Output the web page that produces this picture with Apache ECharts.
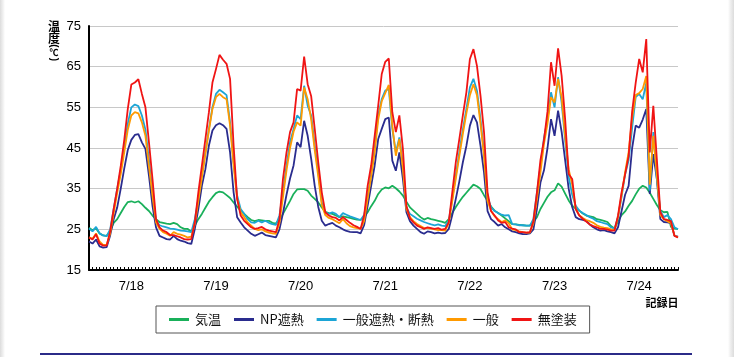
<!DOCTYPE html>
<html>
<head>
<meta charset="utf-8">
<script src="https://cdn.jsdelivr.net/npm/echarts@6/dist/echarts.min.js"></script>
<style>
html,body{margin:0;padding:0;background:#fff;}
#wrap{position:relative;width:734px;height:357px;overflow:hidden;}
#chart{position:absolute;left:0;top:0;width:734px;height:357px;}
.edgeL{position:absolute;left:0;top:0;width:5px;height:357px;background:linear-gradient(to right,#dcdcdc,#f4f4f4 70%,#fff);}
.edgeR{position:absolute;left:728px;top:0;width:6px;height:357px;background:linear-gradient(to right,#fff,#efefef 40%,#dcdcdc);}
</style>
</head>
<body>
<div id="wrap"><div class="edgeL"></div><div class="edgeR"></div><div id="chart"></div></div>
<script>
// ---- data ----
const dayLabels = ['7/18','7/19','7/20','7/21','7/22','7/23','7/24'];
const hoursPerDay = 24;
const yMin = 15, yMax = 75, yStep = 10;
const seriesNames = ['気温','NP遮熱','一般遮熱・断熱','一般','無塗装'];

const kion = [
25.4,24.8,25.2,24.0,23.5,23.4,24.5,26.6,27.5,29.0,30.5,31.7,31.9,31.6,31.9,31.2,30.3,29.5,28.4,27.5,26.8,26.6,26.4,26.3,
26.6,26.3,25.5,25.1,25.1,24.4,25.9,27.5,28.8,30.3,31.8,32.9,33.9,34.3,34.1,33.4,32.7,31.6,30.6,29.6,28.8,28.0,27.3,27.0,
27.3,27.2,27.1,27.1,26.6,26.4,27.5,28.8,30.4,32.0,33.7,34.8,34.9,34.9,34.5,33.3,32.5,31.6,30.4,29.3,29.0,28.8,28.4,28.0,
28.2,28.0,27.8,27.6,27.4,27.3,28.0,29.2,30.7,32.0,33.7,34.8,35.3,35.1,35.7,35.1,34.3,33.3,31.8,30.4,29.6,28.8,28.0,27.4,
27.8,27.5,27.3,27.1,26.9,26.6,27.5,29.0,30.5,31.8,33.0,34.0,35.0,36.0,35.6,34.9,33.4,32.0,30.6,29.6,29.0,28.4,27.7,27.0,
26.3,26.2,26.1,26.0,25.9,25.9,26.8,28.0,30.0,31.5,33.0,34.1,34.6,36.3,35.5,33.8,32.1,30.8,30.1,29.6,28.9,28.4,28.2,28.0,
27.5,27.3,27.1,26.8,25.8,25.2,27.0,28.5,29.4,30.8,32.0,33.6,35.0,35.7,35.3,34.0,32.5,31.0,29.7,29.2,29.3,25.6,25.2,25.1
];
const npShanetsu = [
22.0,21.5,22.5,20.8,20.5,20.6,23.5,27.5,30.4,35.0,40.0,44.5,47.0,48.2,48.4,46.4,44.8,38.2,30.8,25.5,23.4,23.0,22.6,22.5,
23.4,22.6,22.2,22.0,21.6,21.4,25.1,30.0,35.7,39.8,45.6,49.3,50.6,51.1,50.6,49.7,43.9,34.1,28.0,26.7,25.5,24.7,23.9,23.4,
23.8,24.2,23.6,23.4,23.2,23.0,25.0,29.0,33.5,37.5,40.7,46.4,45.2,51.7,48.0,42.3,35.7,30.5,27.1,25.9,26.3,26.6,25.9,25.5,
25.0,24.6,24.4,24.3,24.3,24.0,26.0,30.8,35.7,40.7,47.2,49.7,52.1,52.5,41.9,39.4,43.9,37.4,29.2,27.0,25.9,25.1,24.3,23.9,
24.5,24.3,24.0,24.2,24.0,24.1,25.1,28.5,32.5,36.8,41.5,45.5,50.5,53.1,51.3,45.6,39.0,29.5,27.5,26.8,25.9,26.3,25.5,25.0,
24.5,24.3,24.0,23.8,23.8,24.0,25.0,30.0,36.5,39.5,45.0,52.1,48.0,54.2,49.0,42.0,35.0,30.5,28.0,27.5,27.3,27.1,26.2,25.5,
25.0,24.7,24.8,24.5,24.3,24.0,25.5,29.5,33.5,35.7,45.0,50.5,50.0,52.0,54.6,33.7,43.5,37.4,27.5,26.8,26.7,26.5,23.4,23.2
];
const ippanShanetsuDannetsu = [
25.2,24.5,25.6,24.0,23.5,23.3,25.0,30.0,35.0,39.5,45.0,51.0,55.0,55.7,55.3,53.0,49.5,42.0,34.0,27.2,26.0,25.7,25.5,25.2,
25.1,24.9,24.7,24.6,24.5,24.3,27.5,32.5,38.2,43.9,49.7,55.0,58.3,59.3,58.7,58.0,51.3,41.5,33.3,30.0,28.8,27.5,26.7,26.6,
27.1,26.7,27.1,26.6,26.3,26.1,28.4,34.1,40.7,46.4,49.7,53.0,52.1,60.3,55.4,53.0,45.6,39.0,31.6,29.2,28.8,29.2,28.8,28.0,
29.0,28.6,28.2,27.9,27.6,27.3,28.5,33.0,38.5,45.0,53.0,57.0,59.1,59.5,49.7,43.9,47.6,40.7,30.4,28.8,28.2,27.6,27.2,26.8,
26.5,26.2,26.0,26.2,25.9,25.8,27.1,32.5,38.2,44.0,49.5,54.6,59.9,62.0,59.1,52.1,43.9,33.0,30.4,29.5,29.0,28.6,28.4,28.5,
26.3,26.2,26.0,26.0,25.9,25.9,27.5,34.0,40.5,47.5,52.0,58.7,55.0,62.4,56.2,47.0,38.0,33.5,30.8,29.6,29.0,28.5,28.0,27.6,
27.0,26.8,26.5,26.3,25.5,25.2,28.0,33.0,38.5,42.0,50.0,57.5,58.3,57.0,61.0,34.5,48.9,37.5,29.5,28.0,28.5,27.5,25.5,25.0
];
const ippan = [
23.0,22.7,24.0,22.0,21.2,21.2,24.0,29.0,34.0,38.6,44.0,49.5,53.0,53.8,53.5,51.3,48.0,40.5,33.3,26.7,25.1,24.3,23.9,23.4,
24.3,23.9,23.7,23.4,23.0,23.2,26.3,32.0,37.8,43.5,49.3,54.6,57.5,58.3,57.5,57.0,50.5,40.7,32.5,29.2,28.0,26.7,25.9,25.1,
24.8,25.0,24.5,24.2,24.0,23.9,26.5,33.0,39.5,45.0,49.0,51.3,50.5,59.9,57.0,52.0,44.5,38.0,31.0,28.5,27.8,27.5,27.0,26.5,
27.5,26.5,25.8,25.5,25.3,25.2,27.0,32.5,38.0,44.0,52.0,56.5,58.5,60.5,50.5,43.1,47.2,40.0,30.0,28.0,27.0,26.3,25.8,25.3,
25.3,25.2,25.0,24.8,24.8,24.7,26.5,32.0,37.5,43.0,48.5,53.5,58.0,60.7,58.0,51.0,43.0,32.0,29.5,28.2,27.5,26.8,27.2,26.5,
25.0,24.8,24.5,24.3,24.2,24.2,26.5,32.5,39.0,46.0,51.0,57.5,56.2,62.0,57.5,48.0,39.8,36.0,30.0,28.5,27.8,27.3,27.0,26.6,
26.0,25.6,25.4,25.3,25.0,24.8,28.0,33.5,39.0,44.0,52.5,58.0,58.5,59.5,62.7,36.0,48.0,38.5,28.5,27.5,27.0,26.5,23.5,23.0
];
const mutoso = [
23.0,22.5,23.8,21.5,21.0,21.0,24.5,30.0,35.0,40.6,47.0,54.6,60.6,61.1,61.9,58.3,55.0,46.4,37.4,27.5,25.5,24.7,24.3,23.6,
23.6,23.3,23.0,22.6,22.5,22.6,26.7,34.1,40.6,47.2,53.8,61.1,64.4,67.9,66.7,65.7,62.0,45.6,32.5,28.4,27.1,26.3,25.5,25.1,
25.3,25.6,25.0,24.7,24.5,24.3,27.5,37.4,43.9,48.9,51.3,59.5,59.1,67.5,60.7,57.7,49.7,41.5,34.1,29.2,28.4,28.0,27.8,27.2,
28.0,27.3,26.6,26.0,25.6,25.1,28.4,35.7,40.7,48.0,55.4,63.2,66.2,67.0,53.8,48.9,53.0,44.8,30.8,27.7,26.7,25.9,25.5,25.1,
25.5,25.3,25.1,25.3,24.9,25.1,26.7,34.1,41.5,47.2,53.0,58.7,66.9,69.3,65.2,57.9,48.9,34.1,29.5,28.4,27.2,26.6,26.8,25.5,
25.2,25.0,24.3,24.3,24.2,24.3,27.0,34.0,42.0,47.0,54.0,66.1,60.3,69.5,62.8,52.1,38.6,37.4,30.0,28.4,27.6,26.9,26.2,25.8,
25.5,25.1,25.1,24.9,24.7,24.7,28.4,34.1,38.5,43.0,54.0,61.0,66.9,63.6,71.8,43.9,55.4,42.3,29.2,27.5,27.3,27.0,23.4,23.0
];
const seriesData = [kion, npShanetsu, ippanShanetsuDannetsu, ippan, mutoso];
const seriesColors = ['#19b05a','#2a2c8e','#1ca5d6','#ff9a00','#f01414'];

// ---- build ----
const categories = [];
dayLabels.forEach(d => { for (let h = 0; h < hoursPerDay; h++) categories.push(d + ' ' + h + ':00'); });

const FONT = "'Liberation Sans', Arial, 'Noto Sans CJK JP', sans-serif";
const JFONT = "'Noto Sans CJK JP', 'Liberation Sans', sans-serif";

function txt(str, y, size, fam) {
  return {type: 'text', x: 0, y: y,
    style: {text: str, font: 'bold ' + size + 'px ' + (fam || JFONT), fill: '#000', align: 'center', verticalAlign: 'middle'}};
}
function rotated(str, y, size) {
  return {type: 'group', x: 0, y: y, rotation: -Math.PI / 2, children: [txt(str, 0, size, FONT)]};
}
function titleParts() {
  return [
    txt('温', 0, 12),
    txt('度', 11.5, 12),
    rotated('(', 19.5, 10),
    txt('℃', 25.8, 9),
    rotated(')', 33, 10)
  ];
}

const chart = echarts.init(document.getElementById('chart'), null, {renderer: 'canvas'});
chart.setOption({
  animation: false,
  backgroundColor: 'transparent',
  grid: {left: 89, right: 56, top: 26, bottom: 87, containLabel: false},
  legend: {
    data: seriesNames,
    left: 156, top: 306,
    padding: [7, 13, 7, 13],
    itemGap: 13,
    itemWidth: 20, itemHeight: 3,
    icon: 'rect',
    borderColor: '#555', borderWidth: 1,
    textStyle: {fontFamily: JFONT, fontSize: 13, color: '#111', padding: [0, 0, 0, 1]}
  },
  xAxis: {
    type: 'category',
    data: categories,
    boundaryGap: false,
    axisLine: {lineStyle: {color: '#000', width: 2}},
    axisTick: {show: true, inside: true, length: 3, interval: 0, lineStyle: {color: '#000', width: 1}},
    axisLabel: {
      interval: (i) => i % hoursPerDay === 12,
      formatter: (v) => v.split(' ')[0],
      margin: 10,
      fontFamily: FONT, fontSize: 13, color: '#000'
    },
    splitLine: {show: false}
  },
  yAxis: {
    type: 'value',
    min: yMin, max: yMax, interval: yStep,
    axisLine: {show: true, lineStyle: {color: '#000', width: 2}},
    axisTick: {show: false},
    axisLabel: {fontFamily: FONT, fontSize: 13, color: '#000', margin: 8},
    splitLine: {lineStyle: {color: '#c8c8c8', width: 1}}
  },
  graphic: [
    {type: 'group', x: 54, y: 26.5, children: titleParts()},
    {type: 'text', x: 662, y: 303, style: {text: '記録日', font: 'bold 11px ' + JFONT, fill: '#000', align: 'center', verticalAlign: 'middle'}},
    {type: 'line', shape: {x1: 40, y1: 354, x2: 692, y2: 354}, style: {stroke: '#2b2b88', lineWidth: 2}}
  ],
  series: seriesNames.map((n, i) => ({
    name: n,
    type: 'line',
    data: seriesData[i],
    showSymbol: false,
    symbol: 'none',
    lineStyle: {color: seriesColors[i], width: 1.8},
    itemStyle: {color: seriesColors[i]},
    z: 2 + i
  }))
});
</script>
</body>
</html>
